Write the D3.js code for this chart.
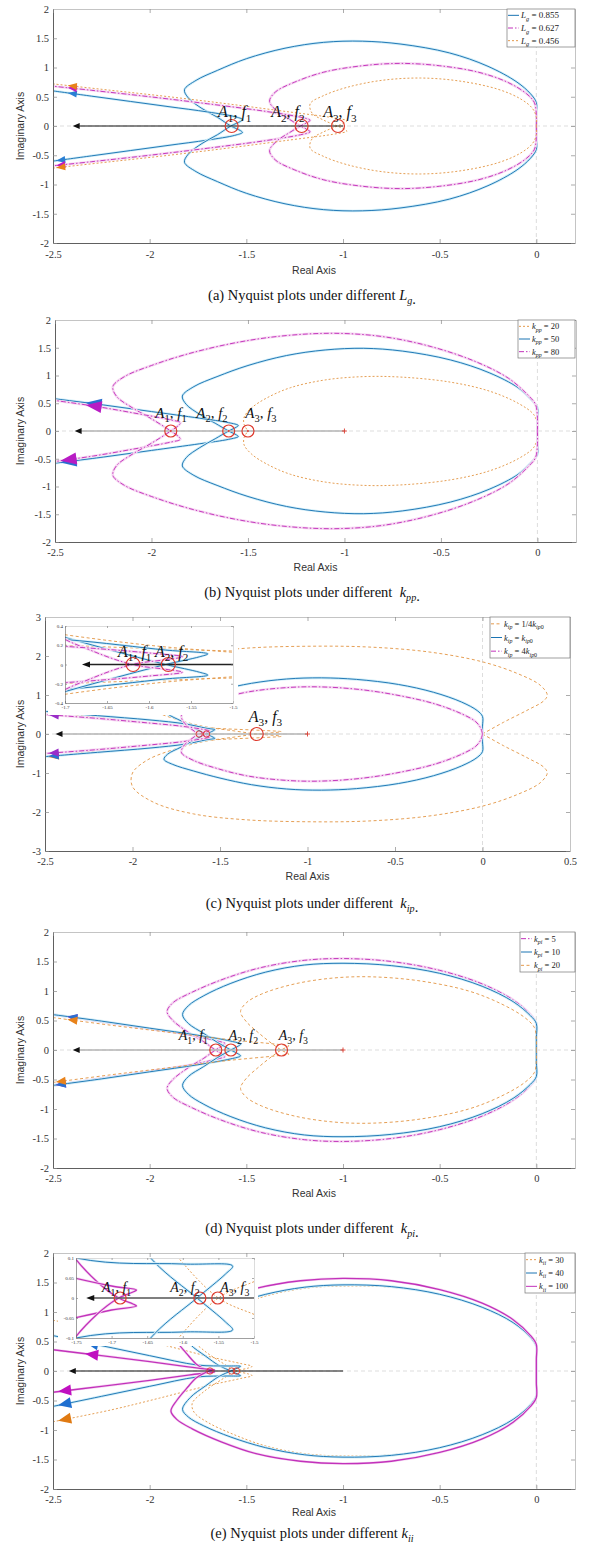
<!DOCTYPE html>
<html><head><meta charset="utf-8">
<script src="https://cdn.jsdelivr.net/npm/d3@7"></script>
<style>
body{margin:0;background:#fff}
svg{display:block}
text{white-space:pre}
</style></head><body>
<svg id="fig" width="594" height="1543"></svg>
<script>
// nyquist plots - upper branch of each curve (mirror is the conjugate)

// (a) L_g
const lgLabels = ['L_g = 0.855', 'L_g = 0.627', 'L_g = 0.456'];
const nyqLg0855 = [[0,0],[0,0.2],[0,0.4],[-0.03,0.55],[-0.1,0.75],[-0.25,1.02],[-0.45,1.25],[-0.7,1.4],[-0.9,1.45],[-1.1,1.43],[-1.3,1.33],[-1.5,1.15],[-1.65,0.95],[-1.76,0.78],[-1.82,0.62],[-1.8,0.48],[-1.73,0.3],[-1.65,0.15],[-1.58,0],[-1.53,-0.08],[-1.52,-0.11],[-1.56,-0.16],[-1.7,-0.24],[-1.9,-0.33],[-2.1,-0.42],[-2.3,-0.51],[-2.5,-0.6]];
const nyqLg0627 = [[0,0],[0,0.2],[-0.01,0.4],[-0.05,0.55],[-0.15,0.75],[-0.3,0.92],[-0.5,1.03],[-0.7,1.07],[-0.9,1.03],[-1.1,0.92],[-1.25,0.75],[-1.35,0.58],[-1.38,0.42],[-1.34,0.25],[-1.28,0.12],[-1.22,0],[-1.18,-0.07],[-1.17,-0.1],[-1.22,-0.15],[-1.4,-0.25],[-1.7,-0.38],[-2.0,-0.5],[-2.3,-0.61],[-2.5,-0.68]];
const nyqLg0456 = [[0,0],[0,0.15],[-0.02,0.3],[-0.08,0.46],[-0.2,0.63],[-0.4,0.77],[-0.6,0.82],[-0.8,0.78],[-0.98,0.66],[-1.1,0.52],[-1.17,0.38],[-1.16,0.22],[-1.1,0.1],[-1.03,0],[-0.99,-0.06],[-0.98,-0.09],[-1.03,-0.13],[-1.3,-0.25],[-1.6,-0.38],[-1.9,-0.5],[-2.2,-0.61],[-2.5,-0.72]];
const crossA = [-1.576, -1.214, -1.026];

// (b) k_pp
const kppLabels = ['k_{pp} = 20', 'k_{pp} = 50', 'k_{pp} = 80'];
const nyqKpp20 = [[0,0],[0,0.12],[-0.02,0.3],[-0.1,0.5],[-0.25,0.72],[-0.45,0.88],[-0.7,0.97],[-0.9,0.98],[-1.1,0.92],[-1.28,0.78],[-1.4,0.6],[-1.48,0.42],[-1.52,0.25],[-1.52,0.12],[-1.5,0]];
const nyqKpp50 = [[0,0],[0,0.2],[0,0.42],[-0.03,0.56],[-0.1,0.78],[-0.25,1.05],[-0.45,1.28],[-0.7,1.44],[-0.9,1.49],[-1.1,1.46],[-1.3,1.36],[-1.5,1.18],[-1.66,0.98],[-1.78,0.8],[-1.84,0.63],[-1.82,0.48],[-1.75,0.3],[-1.67,0.14],[-1.6,0],[-1.56,-0.07],[-1.55,-0.1],[-1.6,-0.15],[-1.75,-0.23],[-2.0,-0.35],[-2.25,-0.47],[-2.5,-0.58]];
const nyqKpp80 = [[0,0],[0,0.25],[-0.01,0.48],[-0.05,0.65],[-0.15,0.95],[-0.32,1.25],[-0.55,1.52],[-0.8,1.7],[-1.05,1.76],[-1.3,1.72],[-1.55,1.6],[-1.8,1.4],[-2.0,1.18],[-2.14,0.98],[-2.2,0.8],[-2.18,0.62],[-2.1,0.42],[-2.0,0.22],[-1.9,0],[-1.86,-0.1],[-1.85,-0.15],[-1.9,-0.2],[-2.1,-0.33],[-2.3,-0.45],[-2.5,-0.55]];
const crossB = [-1.9, -1.6, -1.5];

// (c) k_ip
const kipLabels = ['k_{ip} = 1/4k_{ip0}', 'k_{ip} = k_{ip0}', 'k_{ip} = 4k_{ip0}'];
const nyqKipQuarter = [[0,0],[0.12,0.3],[0.26,0.62],[0.35,0.85],[0.37,1.0],[0.33,1.25],[0.2,1.55],[0,1.85],[-0.3,2.1],[-0.65,2.23],[-1.0,2.25],[-1.35,2.2],[-1.65,2.05],[-1.88,1.75],[-2.0,1.35],[-2.0,1.0],[-1.92,0.68],[-1.78,0.42],[-1.6,0.2],[-1.42,0.08],[-1.29,0],[-1.18,-0.04],[-1.15,-0.06],[-1.25,-0.09],[-1.5,-0.14],[-1.7,-0.2],[-2.0,-0.33],[-2.25,-0.45],[-2.5,-0.6]];
const nyqKip1 = [[0,0],[0,0.2],[0,0.45],[-0.03,0.6],[-0.12,0.82],[-0.28,1.07],[-0.48,1.27],[-0.72,1.4],[-0.92,1.44],[-1.12,1.41],[-1.32,1.3],[-1.5,1.13],[-1.65,0.95],[-1.77,0.78],[-1.82,0.65],[-1.8,0.52],[-1.72,0.33],[-1.65,0.16],[-1.58,0],[-1.54,-0.08],[-1.53,-0.11],[-1.58,-0.15],[-1.7,-0.26],[-1.9,-0.36],[-2.2,-0.47],[-2.5,-0.58]];
const nyqKip4 = [[0,0],[-0.01,0.15],[-0.04,0.32],[-0.12,0.52],[-0.27,0.77],[-0.47,0.98],[-0.7,1.14],[-0.95,1.21],[-1.15,1.18],[-1.35,1.07],[-1.52,0.88],[-1.65,0.68],[-1.72,0.48],[-1.71,0.32],[-1.67,0.15],[-1.62,0],[-1.58,-0.05],[-1.56,-0.08],[-1.6,-0.12],[-1.72,-0.2],[-1.95,-0.3],[-2.2,-0.4],[-2.5,-0.5]];
const crossC = [-1.29];
const crossCzoom = [-1.619, -1.577];

// (d) k_pi
const kpiLabels = ['k_{pi} = 5', 'k_{pi} = 10', 'k_{pi} = 20'];
const nyqKpi5 = [[0,0],[0,0.2],[0,0.45],[-0.03,0.6],[-0.12,0.85],[-0.28,1.12],[-0.5,1.35],[-0.75,1.5],[-1.0,1.55],[-1.2,1.52],[-1.42,1.4],[-1.62,1.2],[-1.78,0.98],[-1.88,0.8],[-1.91,0.65],[-1.88,0.5],[-1.8,0.3],[-1.72,0.14],[-1.66,0],[-1.62,-0.08],[-1.61,-0.11],[-1.66,-0.16],[-1.8,-0.26],[-2.0,-0.36],[-2.25,-0.48],[-2.5,-0.6]];
const nyqKpi10 = [[0,0],[0,0.2],[0,0.45],[-0.03,0.58],[-0.12,0.82],[-0.28,1.08],[-0.5,1.3],[-0.75,1.43],[-1.0,1.47],[-1.2,1.44],[-1.4,1.32],[-1.58,1.13],[-1.72,0.92],[-1.8,0.75],[-1.83,0.6],[-1.8,0.45],[-1.72,0.28],[-1.65,0.13],[-1.58,0],[-1.54,-0.07],[-1.53,-0.1],[-1.58,-0.15],[-1.75,-0.25],[-2.0,-0.37],[-2.25,-0.49],[-2.5,-0.6]];
const nyqKpi20 = [[0,0],[0,0.18],[-0.01,0.38],[-0.06,0.55],[-0.18,0.78],[-0.35,1.0],[-0.6,1.17],[-0.85,1.24],[-1.05,1.22],[-1.25,1.12],[-1.42,0.95],[-1.5,0.8],[-1.53,0.65],[-1.5,0.48],[-1.44,0.3],[-1.38,0.14],[-1.32,0],[-1.29,-0.05],[-1.28,-0.07],[-1.35,-0.1],[-1.6,-0.18],[-1.9,-0.3],[-2.2,-0.42],[-2.5,-0.55]];
const crossD = [-1.658, -1.58, -1.318];

// (e) k_ii
const kiiLabels = ['k_{ii} = 30', 'k_{ii} = 40', 'k_{ii} = 100'];
const nyqKii30 = [[0,0],[0,0.2],[0,0.42],[-0.03,0.57],[-0.12,0.82],[-0.28,1.08],[-0.5,1.3],[-0.75,1.42],[-1.0,1.44],[-1.2,1.4],[-1.4,1.27],[-1.57,1.07],[-1.7,0.87],[-1.77,0.7],[-1.78,0.55],[-1.72,0.35],[-1.63,0.15],[-1.55,0],[-1.49,-0.05],[-1.47,-0.08],[-1.52,-0.12],[-1.7,-0.25],[-1.95,-0.46],[-2.2,-0.66],[-2.5,-0.86]];
const nyqKii40 = [[0,0],[0,0.2],[0,0.42],[-0.03,0.57],[-0.12,0.82],[-0.28,1.08],[-0.5,1.3],[-0.75,1.43],[-1.0,1.46],[-1.2,1.42],[-1.4,1.3],[-1.58,1.12],[-1.72,0.93],[-1.8,0.78],[-1.83,0.65],[-1.79,0.45],[-1.71,0.25],[-1.64,0.09],[-1.58,0],[-1.54,-0.06],[-1.53,-0.08],[-1.6,-0.085],[-1.75,-0.1],[-2.0,-0.26],[-2.25,-0.43],[-2.5,-0.6]];
const nyqKii100 = [[0,0],[0,0.2],[0,0.45],[-0.03,0.6],[-0.12,0.87],[-0.28,1.15],[-0.5,1.38],[-0.75,1.53],[-1.0,1.57],[-1.22,1.53],[-1.45,1.4],[-1.63,1.2],[-1.78,0.98],[-1.86,0.82],[-1.89,0.68],[-1.86,0.5],[-1.81,0.3],[-1.76,0.12],[-1.72,0.04],[-1.69,0],[-1.67,-0.015],[-1.665,-0.02],[-1.7,-0.03],[-1.8,-0.07],[-2.0,-0.16],[-2.25,-0.26],[-2.5,-0.36]];
const crossE = [-1.688, -1.576, -1.551];

// ticks and point names
const xTicks = [-2.5, -2, -1.5, -1, -0.5, 0];
const xTicksC = [-2.5, -2, -1.5, -1, -0.5, 0, 0.5];
const yTicks = [-2, -1.5, -1, -0.5, 0, 0.5, 1, 1.5, 2];
const yTicksC = [-3, -2, -1, 0, 1, 2, 3];
const insetTicksCx = [-1.7, -1.65, -1.6, -1.55, -1.5];
const insetTicksCy = [-0.4, -0.2, 0, 0.2, 0.4];
const insetTicksEx = [-1.75, -1.7, -1.65, -1.6, -1.55, -1.5];
const insetTicksEy = [-0.1, -0.05, 0, 0.05, 0.1];
const pointNames = ['A_1, f_1', 'A_2, f_2', 'A_3, f_3'];

const BLUE = '#1a74b3', MAGENTA = '#c232bb', ORANGE = '#e49a4c';
const HALO_B = '#d2eef8', HALO_M = '#f6d8f2';
const RED = '#de3a2e';
const SERIF = '"Liberation Serif","Times New Roman",serif';
const SANS = '"Liberation Sans",Arial,sans-serif';

const svg = d3.select('#fig');
const defs = svg.append('defs');

function mathText(sel, str, size) {
    const re = /_\{([^}]*)\}|_(.)/g;
    let last = 0, m, parts = [];
    while ((m = re.exec(str))) {
        if (m.index > last) parts.push({ t: str.slice(last, m.index) });
        parts.push({ t: m[1] || m[2], sub: true });
        last = re.lastIndex;
    }
    if (last < str.length) parts.push({ t: str.slice(last) });
    let down = false;
    parts.forEach(p => {
        p.t.match(/[A-Za-z]+|[^A-Za-z]+/g).forEach(run => {
            const ts = sel.append('tspan').text(run)
                .attr('font-size', p.sub ? size * 0.7 : size)
                .attr('font-style', /[A-Za-z]/.test(run) ? 'italic' : 'normal');
            if (p.sub && !down) { ts.attr('dy', size * 0.28); down = true; }
            if (!p.sub && down) { ts.attr('dy', -size * 0.28); down = false; }
        });
    });
}

function tri(g, cx, cy, ux, uy, len, hw, fill) {
    // triangle pointing along (ux,uy)
    const n = Math.hypot(ux, uy); ux /= n; uy /= n;
    const ax = cx + ux * len / 2, ay = cy + uy * len / 2;
    const bx = cx - ux * len / 2, by = cy - uy * len / 2;
    g.append('path')
        .attr('d', `M${ax},${ay}L${bx - uy * hw},${by + ux * hw}L${bx + uy * hw},${by - ux * hw}Z`)
        .attr('fill', fill);
}

function arrowSpot(b, xv) {
    for (let i = b.length - 2; i >= 0; i--) {
        const [xa, ya] = b[i], [xb, yb] = b[i + 1];
        if ((xa - xv) * (xb - xv) <= 0 && xa !== xb) {
            const t = (xv - xa) / (xb - xa);
            return { x: xv, y: ya + t * (yb - ya), a: b[i], b: b[i + 1] };
        }
    }
    return null;
}

function drawCurves(g, x, y, series, arr) {
    const line = d3.line().x(d => x(d[0])).y(d => y(d[1])).curve(d3.curveCatmullRom.alpha(0.5));
    series.forEach(s => {
        [s.data, s.data.map(d => [d[0], -d[1]])].forEach(b => {
            if (s.halo) g.append('path').attr('d', line(b)).attr('fill', 'none')
                .attr('stroke', s.halo).attr('stroke-width', 2.6);
            g.append('path').attr('d', line(b)).attr('fill', 'none')
                .attr('stroke', s.color).attr('stroke-width', s.w || 0.95)
                .attr('stroke-dasharray', s.dash);
        });
    });
    if (!arr) return;
    series.forEach(s => {
        [[s.data, arr.xl], [s.data.map(d => [d[0], -d[1]]), arr.xu]].forEach(([b, xv]) => {
            const p = arrowSpot(b, xv);
            if (!p) return;
            tri(g, x(p.x), y(p.y), x(p.b[0]) - x(p.a[0]), y(p.b[1]) - y(p.a[1]), arr.len, arr.hw, s.arrow);
        });
    });
}

function drawAxes(g, x, y, box, xt, yt, o) {
    const fmt = d => String(d);
    const style = (sel, col, fs) => {
        sel.select('.domain').attr('stroke', col).attr('stroke-width', o.sw || 1);
        sel.selectAll('.tick line').attr('stroke', '#888').attr('stroke-width', 0.7);
        sel.selectAll('.tick text').attr('font-family', SERIF).attr('font-size', fs).attr('fill', '#333');
    };
    g.append('g').attr('transform', `translate(0,${box.y1})`)
        .call(d3.axisBottom(x).tickValues(xt).tickSize(-o.tk).tickSizeOuter(0).tickPadding(o.padX).tickFormat(fmt))
        .call(s => style(s, '#606060', o.fs));
    g.append('g').attr('transform', `translate(${box.x0},0)`)
        .call(d3.axisLeft(y).tickValues(yt).tickSize(-o.tk).tickSizeOuter(0).tickPadding(o.padY).tickFormat(fmt))
        .call(s => style(s, '#606060', o.fs));
    g.append('g').attr('transform', `translate(0,${box.y0})`)
        .call(d3.axisTop(x).tickValues(xt).tickSize(-o.tk).tickSizeOuter(0).tickFormat(''))
        .call(s => style(s, '#c4c4c4', o.fs));
    g.append('g').attr('transform', `translate(${box.x1},0)`)
        .call(d3.axisRight(y).tickValues(yt).tickSize(-o.tk).tickSizeOuter(0).tickFormat(''))
        .call(s => style(s, '#c4c4c4', o.fs));
}

function marks(g, x, y, P, M) {
    // real axis arrow line from the critical point
    const yy = y(0);
    g.append('line').attr('x1', x(-1)).attr('x2', x(M.lineTo) + 3).attr('y1', yy).attr('y2', yy)
        .attr('stroke', M.lineColor).attr('stroke-width', M.lineW);
    tri(g, x(M.lineTo), yy, -1, 0, 7, 3, '#111');
    if (M.plus) {
        g.append('path').attr('d', `M${x(-1) - 2.5},${yy}h5M${x(-1)},${yy - 2.5}v5`)
            .attr('stroke', RED).attr('stroke-width', 0.9);
    }
    (M.cross || []).forEach(c => {
        g.append('circle').attr('cx', x(c)).attr('cy', yy).attr('r', M.r)
            .attr('fill', 'none').attr('stroke', RED).attr('stroke-width', 1.2);
        if (M.dot) g.append('circle').attr('cx', x(c)).attr('cy', yy).attr('r', 1).attr('fill', RED);
    });
    (M.small || []).forEach(c => {
        g.append('circle').attr('cx', x(c)).attr('cy', yy).attr('r', 3.2)
            .attr('fill', 'none').attr('stroke', RED).attr('stroke-width', 0.9);
    });
    (M.labels || []).forEach(l => {
        const t = g.append('text').attr('x', x(l.x)).attr('y', y(l.y))
            .attr('text-anchor', 'middle').attr('font-family', SERIF).attr('fill', '#111');
        mathText(t, l.t, M.fs);
    });
}

function drawLegend(g, L, series) {
    g.append('rect').attr('x', L.x).attr('y', L.y).attr('width', L.w).attr('height', L.h)
        .attr('fill', '#fff').attr('stroke', '#777').attr('stroke-width', 0.7);
    const step = L.h / series.length;
    series.forEach((s, i) => {
        const yy = L.y + step * (i + 0.5);
        g.append('line').attr('x1', L.x + 1).attr('x2', L.x + 12).attr('y1', yy).attr('y2', yy)
            .attr('stroke', s.color).attr('stroke-width', 1).attr('stroke-dasharray', s.dash);
        const t = g.append('text').attr('x', L.x + 14).attr('y', yy + 3)
            .attr('font-family', SERIF).attr('fill', '#222');
        mathText(t, s.label, L.fs);
    });
}

function drawInset(g, I, series, idn) {
    g.append('rect').attr('x', I.bg[0]).attr('y', I.bg[1]).attr('width', I.bg[2]).attr('height', I.bg[3]).attr('fill', '#fff');
    const x = d3.scaleLinear().domain(I.xlim).range([I.x0, I.x1]);
    const y = d3.scaleLinear().domain(I.ylim).range([I.y1, I.y0]);
    defs.append('clipPath').attr('id', 'clipI' + idn).append('rect')
        .attr('x', I.x0).attr('y', I.y0).attr('width', I.x1 - I.x0).attr('height', I.y1 - I.y0);
    const cg = g.append('g').attr('clip-path', `url(#clipI${idn})`);
    drawCurves(cg, x, y, series, null);
    const yy = y(0);
    cg.append('line').attr('x1', x(I.xlim[1])).attr('x2', x(I.lineTo) + 3).attr('y1', yy).attr('y2', yy)
        .attr('stroke', I.lineColor).attr('stroke-width', 1.3);
    tri(cg, x(I.lineTo), yy, -1, 0, 8, 3, '#111');
    I.cross.forEach(c => g.append('circle').attr('cx', x(c)).attr('cy', yy).attr('r', I.r)
        .attr('fill', 'none').attr('stroke', RED).attr('stroke-width', 1.2));
    I.labels.forEach(l => {
        const t = g.append('text').attr('x', x(l.x)).attr('y', y(l.y))
            .attr('text-anchor', 'middle').attr('font-family', SERIF).attr('fill', '#111');
        mathText(t, l.t, I.fs);
    });
    drawAxes(g, x, y, I, I.xt, I.yt, { tk: 2, padX: 2, padY: 2, fs: 5, sw: 0.6 });
}

function drawPanel(P) {
    const g = svg.append('g');
    const x = d3.scaleLinear().domain(P.xlim).range([P.x0, P.x1]);
    const y = d3.scaleLinear().domain(P.ylim).range([P.y1, P.y0]);
    defs.append('clipPath').attr('id', 'clip' + P.id).append('rect')
        .attr('x', P.x0).attr('y', P.y0).attr('width', P.x1 - P.x0).attr('height', P.y1 - P.y0);

    const grid = g.append('g').attr('stroke', '#cfcfcf').attr('stroke-width', 0.7).attr('stroke-dasharray', '4,3');
    grid.append('line').attr('x1', P.x0).attr('x2', P.x1).attr('y1', y(0)).attr('y2', y(0));
    grid.append('line').attr('x1', x(0)).attr('x2', x(0)).attr('y1', P.y0).attr('y2', P.y1);

    const cg = g.append('g').attr('clip-path', `url(#clip${P.id})`);
    drawCurves(cg, x, y, P.series, P.arrows);
    marks(cg, x, y, P, P.marks);

    if (P.inset) drawInset(g, P.inset, P.series, P.id);

    drawAxes(g, x, y, P, P.xt, P.yt, { tk: 4, padX: P.padX, padY: 4, fs: 10.5 });
    drawLegend(g, P.legend, P.series);

    g.append('text').attr('transform', `translate(${P.ylabX},${(P.y0 + P.y1) / 2}) rotate(-90)`)
        .attr('text-anchor', 'middle').attr('font-family', SANS).attr('font-size', 10.5).attr('fill', '#333')
        .text('Imaginary Axis');
    g.append('text').attr('x', (P.x0 + P.x1) / 2).attr('y', P.realY)
        .attr('text-anchor', 'middle').attr('font-family', SANS).attr('font-size', 10.5).attr('fill', '#333')
        .text('Real Axis');
    const cap = g.append('text').attr('x', P.capX).attr('y', P.capY).attr('text-anchor', 'middle')
        .attr('font-family', SERIF).attr('font-size', 14.5).attr('fill', '#111');
    cap.append('tspan').text(P.caption[0]);
    mathText(cap, P.caption[1], 14.5);
    cap.append('tspan').attr('font-style', 'normal').text(P.caption[2]);
}

const DASHDOT = '5,2,1.5,2', DOT = '2,2', DASH = '3,2.5';
const AX = { x0: 53, x1: 575, xlim: [-2.5, 0.2], ylim: [-2, 2], xt: xTicks, yt: yTicks, ylabX: 24, capX: 312 };

const panels = [
    Object.assign({}, AX, {
        id: 'a', y0: 9, y1: 243, padX: 8, realY: 274, capY: 300,
        caption: ['(a) Nyquist plots under different ', 'L_g', '.'],
        series: [
            { label: lgLabels[0], data: nyqLg0855, color: BLUE, halo: HALO_B, arrow: '#2a7fd4' },
            { label: lgLabels[1], data: nyqLg0627, color: MAGENTA, halo: HALO_M, dash: DASHDOT, arrow: '#c21cc0' },
            { label: lgLabels[2], data: nyqLg0456, color: ORANGE, dash: DOT, arrow: '#e8821a' }
        ],
        arrows: { xu: -2.4, xl: -2.46, len: 9, hw: 3.5 },
        marks: { lineTo: -2.38, lineColor: '#111', lineW: 1.2, cross: crossA, r: 6.5, fs: 16,
            labels: [{ t: pointNames[0], x: -1.56, y: 0.15 }, { t: pointNames[1], x: -1.285, y: 0.15 }, { t: pointNames[2], x: -1.016, y: 0.15 }] },
        legend: { x: 507, y: 9, w: 68, h: 38, fs: 9 }
    }),
    Object.assign({}, AX, {
        id: 'b', x0: 55, x1: 576, y0: 320, y1: 542, padX: 7, realY: 571, capY: 597,
        caption: ['(b) Nyquist plots under different  ', 'k_{pp}', '.'],
        series: [
            { label: kppLabels[0], data: nyqKpp20, color: ORANGE, dash: DOT, arrow: '#e8821a' },
            { label: kppLabels[1], data: nyqKpp50, color: BLUE, halo: HALO_B, arrow: '#2a6fd0' },
            { label: kppLabels[2], data: nyqKpp80, color: MAGENTA, halo: HALO_M, dash: DASHDOT, arrow: '#b81cc4' }
        ],
        arrows: { xu: -2.3, xl: -2.43, len: 16, hw: 6 },
        marks: { lineTo: -2.38, lineColor: '#b4b4b4', lineW: 1.6, plus: true, dot: true, cross: crossB, r: 6, fs: 15,
            labels: [{ t: pointNames[0], x: -1.899, y: 0.23 }, { t: pointNames[1], x: -1.687, y: 0.23 }, { t: pointNames[2], x: -1.433, y: 0.23 }] },
        legend: { x: 518, y: 320, w: 57, h: 38, fs: 8.5 }
    }),
    Object.assign({}, AX, {
        id: 'c', x0: 45, x1: 570, y0: 617, y1: 851, xlim: [-2.5, 0.5], ylim: [-3, 3], xt: xTicksC, yt: yTicksC,
        padX: 7, realY: 880, capY: 908,
        caption: ['(c) Nyquist plots under different  ', 'k_{ip}', '.'],
        series: [
            { label: kipLabels[0], data: nyqKipQuarter, color: ORANGE, dash: DASH, arrow: '#e8821a' },
            { label: kipLabels[1], data: nyqKip1, color: BLUE, halo: HALO_B, arrow: '#2a6fd0' },
            { label: kipLabels[2], data: nyqKip4, color: MAGENTA, halo: HALO_M, dash: DASHDOT, arrow: '#9a2cc8' }
        ],
        arrows: { xu: -2.45, xl: -2.45, len: 10, hw: 4 },
        marks: { lineTo: -2.42, lineColor: '#b4b4b4', lineW: 1.6, plus: true, cross: crossC, small: crossCzoom, r: 6.5, fs: 16,
            labels: [{ t: pointNames[2], x: -1.24, y: 0.31 }] },
        legend: { x: 490, y: 617, w: 80, h: 41, fs: 8.5 },
        inset: { x0: 65, x1: 233, y0: 626, y1: 703, bg: [48, 619, 190, 96], xlim: [-1.7, -1.5], ylim: [-0.4, 0.4],
            xt: insetTicksCx, yt: insetTicksCy, lineTo: -1.675, lineColor: '#222', cross: crossCzoom, r: 7, fs: 16,
            labels: [{ t: pointNames[0], x: -1.617, y: 0.078 }, { t: pointNames[1], x: -1.573, y: 0.078 }] }
    }),
    Object.assign({}, AX, {
        id: 'd', y0: 932, y1: 1168, padX: 7, realY: 1197, capY: 1233,
        caption: ['(d) Nyquist plots under different  ', 'k_{pi}', '.'],
        series: [
            { label: kpiLabels[0], data: nyqKpi5, color: MAGENTA, halo: HALO_M, dash: DASHDOT, arrow: '#b81cc4' },
            { label: kpiLabels[1], data: nyqKpi10, color: BLUE, halo: HALO_B, arrow: '#2a6fd0' },
            { label: kpiLabels[2], data: nyqKpi20, color: ORANGE, dash: DASH, arrow: '#e8821a' }
        ],
        arrows: { xu: -2.4, xl: -2.46, len: 10, hw: 4 },
        marks: { lineTo: -2.38, lineColor: '#b4b4b4', lineW: 1.6, plus: true, cross: crossD, r: 6, fs: 14,
            labels: [{ t: pointNames[0], x: -1.774, y: 0.166 }, { t: pointNames[1], x: -1.515, y: 0.166 }, { t: pointNames[2], x: -1.257, y: 0.166 }] },
        legend: { x: 520, y: 932, w: 55, h: 40, fs: 8.5 }
    }),
    Object.assign({}, AX, {
        id: 'e', y0: 1253, y1: 1489, padX: 7, realY: 1516, capY: 1538,
        caption: ['(e) Nyquist plots under different ', 'k_{ii}', ''],
        series: [
            { label: kiiLabels[0], data: nyqKii30, color: ORANGE, dash: DOT, arrow: '#e07a12' },
            { label: kiiLabels[1], data: nyqKii40, color: BLUE, halo: HALO_B, arrow: '#1f6fd0' },
            { label: kiiLabels[2], data: nyqKii100, color: MAGENTA, halo: HALO_M, w: 1.3, arrow: '#c010c0' }
        ],
        arrows: { xu: -2.3, xl: -2.44, len: 13, hw: 5.5 },
        marks: { lineTo: -2.4, lineColor: '#111', lineW: 1.1, small: crossE, fs: 14, labels: [] },
        legend: { x: 525, y: 1253, w: 50, h: 40, fs: 8.5 },
        inset: { x0: 76, x1: 254, y0: 1258, y1: 1338, bg: [58, 1254, 200, 92], xlim: [-1.75, -1.5], ylim: [-0.1, 0.1],
            xt: insetTicksEx, yt: insetTicksEy, lineTo: -1.73, lineColor: '#555', cross: crossE, r: 6, fs: 14,
            labels: [{ t: pointNames[0], x: -1.693, y: 0.015 }, { t: pointNames[1], x: -1.597, y: 0.015 }, { t: pointNames[2], x: -1.527, y: 0.015 }] }
    })
];

panels.forEach(drawPanel);
</script>
</body></html>
